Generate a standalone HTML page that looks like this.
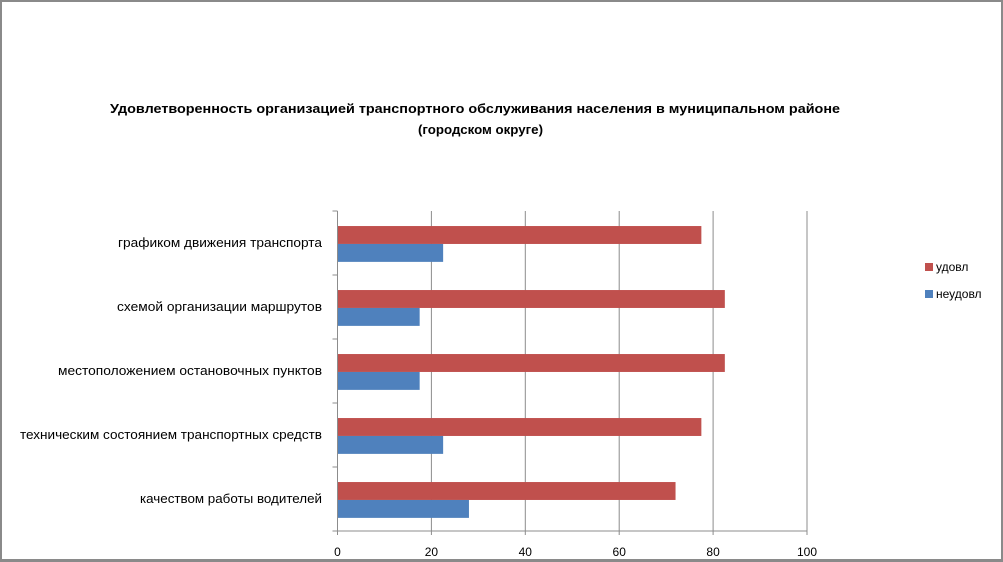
<!DOCTYPE html>
<html><head><meta charset="utf-8">
<style>
html,body{margin:0;padding:0;background:#fff;}
body{width:1003px;height:561px;overflow:hidden;position:relative;font-family:"Liberation Sans","DejaVu Sans",sans-serif;}
#frame{position:absolute;left:0;top:0;width:999px;height:557px;border:2px solid #8a8a8a;border-right-width:3px;border-bottom-width:3px;box-sizing:content-box;}
</style></head>
<body>
<div id="frame"></div>
<svg id="chart" width="1003" height="561" style="position:absolute;left:0;top:0">
<text x="110" y="113" textLength="730" lengthAdjust="spacingAndGlyphs" font-size="13" font-weight="bold" fill="#000">Удовлетворенность организацией транспортного обслуживания населения в муниципальном районе</text>
<text x="418" y="134" textLength="125" lengthAdjust="spacingAndGlyphs" font-size="13" font-weight="bold" fill="#000">(городском округе)</text>
<g id="grid"></g><g id="bars"></g><g id="axes"></g>
<g>
<rect x="925" y="263" width="8" height="8" fill="#c0504d"/>
<text x="936" y="271" font-size="12" fill="#000">удовл</text>
<rect x="925" y="290" width="8" height="8" fill="#4f81bd"/>
<text x="936" y="298" font-size="12" fill="#000">неудовл</text>
</g>
</svg>
<script>
const categories=["графиком движения  транспорта","схемой организации маршрутов","местоположением  остановочных пунктов","техническим  состоянием транспортных средств","качеством  работы водителей"];
const udovl=[77.5,82.5,82.5,77.5,72];
const neudovl=[22.5,17.5,17.5,22.5,28];
const ticks=[0,20,40,60,80,100];
const labelWidths=[204,205,264,302,182];
const NS="http://www.w3.org/2000/svg";
const x0=337.5,x1=807,yTop=211,yBot=531;
const xs=v=>x0+(v/100)*(x1-x0);
const band=(yBot-yTop)/categories.length;
const bandY=i=>yTop+i*band;
function mk(tag,attrs,parent){const e=document.createElementNS(NS,tag);for(const k in attrs)e.setAttribute(k,attrs[k]);parent.appendChild(e);return e;}
const grid=document.getElementById('grid'),bars=document.getElementById('bars'),axes=document.getElementById('axes');
ticks.forEach((t,i)=>{
  if(t>0){const l=mk('line',{x1:xs(t),x2:xs(t),y1:yTop,y2:yBot,stroke:'#8c8c8c','stroke-width':1},grid);
  
  }
  const tk=mk('line',{x1:xs(t),x2:xs(t),y1:yBot,y2:yBot+4,stroke:'#8c8c8c'},axes);
  
  
  const tx=mk('text',{x:xs(t),y:yBot+25,'text-anchor':'middle','font-size':12,fill:'#000'},axes);
  tx.textContent=t;
  
  
});
const bh=band*0.28;
categories.forEach((c,i)=>{
  const y=bandY(i)+band*0.235;
  const r=mk('rect',{x:x0,y:y,width:xs(udovl[i])-x0,height:bh,fill:'#c0504d'},bars);
  
  
  const b=mk('rect',{x:x0,y:y+bh,width:xs(neudovl[i])-x0,height:bh,fill:'#4f81bd'},bars);
  
  
  const w=labelWidths[i];
  const t=mk('text',{x:322-w,y:bandY(i)+band/2+4,textLength:w,lengthAdjust:'spacingAndGlyphs','font-size':12.5,fill:'#000','xml:space':'preserve'},axes);
  t.textContent=c;
  
  
});
for(let i=0;i<=categories.length;i++){
  const l=mk('line',{x1:x0-5,x2:x0,y1:bandY(i),y2:bandY(i),stroke:'#8c8c8c'},axes);
  
  
}
const ya=mk('line',{x1:x0,x2:x0,y1:yTop,y2:yBot,stroke:'#8c8c8c'},axes);


const xa=mk('line',{x1:x0-5,x2:x1,y1:yBot,y2:yBot,stroke:'#8c8c8c'},axes);


</script>
</body></html>
